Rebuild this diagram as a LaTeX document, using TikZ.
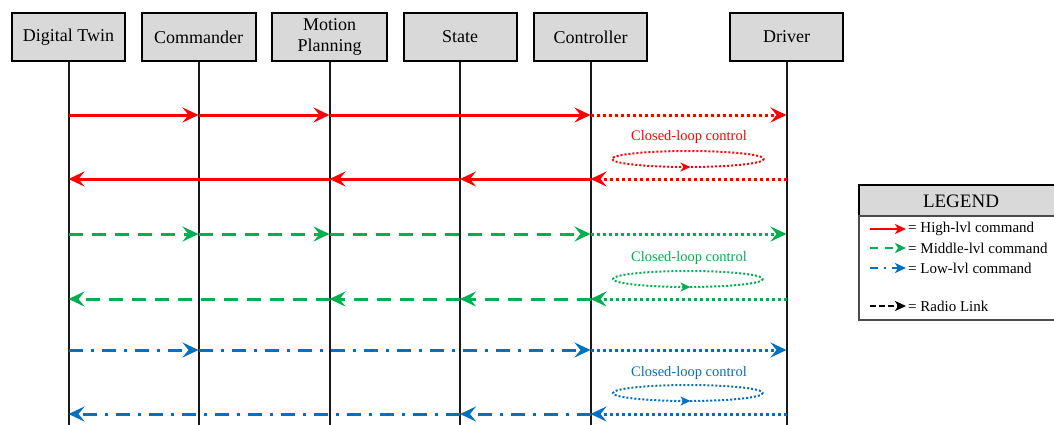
\documentclass[tikz,border=0pt]{standalone}
\usepackage{fontspec}
\setmainfont{Liberation Serif}
\usetikzlibrary{arrows.meta,decorations.markings}
\definecolor{cred}{HTML}{FF0000}
\definecolor{cgreen}{HTML}{00B050}
\definecolor{cblue}{HTML}{0070C0}
\definecolor{boxgray}{HTML}{D9D9D9}
\begin{document}
\begin{tikzpicture}[x=1pt,y=-1pt,
  actor/.style={draw=black,line width=2pt,fill=boxgray,minimum width=113pt,minimum height=48pt,inner sep=0pt,align=center,font=\fontsize{18}{22}\selectfont},
  life/.style={draw=black!90,line width=2pt},
  tip/.style={-{Stealth[length=16pt,width=15pt,inset=6pt]}},
  msg/.style={tip,line width=3pt},
  solidm/.style={msg},
  dashm/.style={msg,dash pattern=on 14pt off 9pt},
  dashdotm/.style={msg,dash pattern=on 14pt off 8pt on 3pt off 8pt},
  dotm/.style={msg,dash pattern=on 3pt off 3pt},
  looplabel/.style={font=\fontsize{14.5}{16}\selectfont},
  loopell/.style={line width=2pt,dash pattern=on 2pt off 2pt,
    postaction={decorate,decoration={markings,mark=at position 0.242 with {\arrowreversed{Stealth[length=10pt,width=9pt,inset=3pt]}}}}},
  legtext/.style={anchor=west,font=\fontsize{15}{17}\selectfont,inner sep=0pt}
]
\useasboundingbox (0,0) rectangle (1054,424);

% actors
\node[actor] (dt) at (68.5,37) {Digital Twin};
\node[actor,minimum width=114pt] (cm) at (198.5,37) {Commander};
\node[actor,minimum width=115pt] (mp) at (329.5,37) {Motion\\[-1pt]Planning};
\node[actor] (st) at (460,37) {State};
\node[actor] (ct) at (590.5,37) {Controller};
\node[actor] (dr) at (786.5,37) {Driver};

% lifeline ends
\foreach \a in {dt,cm,mp,st,ct,dr}{
  \coordinate (\a-end) at (\a.south |- 0,430);
  \draw[life] (\a.south) -- (\a-end);
}

% row levels
\coordinate (R1) at (0,115);
\coordinate (R2) at (0,179);
\coordinate (G1) at (0,234);
\coordinate (G2) at (0,299);
\coordinate (B1) at (0,350);
\coordinate (B2) at (0,414);

% red
\begin{scope}[cred]
\draw[solidm] (dt |- R1) -- (cm |- R1);
\draw[solidm] (cm |- R1) -- (mp |- R1);
\draw[solidm] (mp |- R1) -- (ct |- R1);
\draw[dotm] (ct |- R1) -- (dr |- R1);
\node[looplabel,text=cred] (rl) at (689,137) {Closed-loop control};
\draw[loopell] (688,159) ellipse (76 and 8);
\draw[dotm] (dr |- R2) -- (ct |- R2);
\draw[solidm] (ct |- R2) -- (st |- R2);
\draw[solidm] (st |- R2) -- (mp |- R2);
\draw[solidm] (mp |- R2) -- (dt |- R2);
\end{scope}

% green
\begin{scope}[cgreen]
\draw[dashm] (dt |- G1) -- (cm |- G1);
\draw[dashm] (cm |- G1) -- (mp |- G1);
\draw[dashm] (mp |- G1) -- (ct |- G1);
\draw[dotm] (ct |- G1) -- (dr |- G1);
\node[looplabel,text=cgreen] (gl) at (689,258) {Closed-loop control};
\draw[loopell] (688,279) ellipse (75 and 8);
\draw[dotm] (dr |- G2) -- (ct |- G2);
\draw[dashm] (ct |- G2) -- (st |- G2);
\draw[dashm] (st |- G2) -- (mp |- G2);
\draw[dashm] (mp |- G2) -- (dt |- G2);
\end{scope}

% blue
\begin{scope}[cblue]
\draw[dashdotm] (dt |- B1) -- (cm |- B1);
\draw[dashdotm] (cm |- B1) -- (ct |- B1);
\draw[dotm] (ct |- B1) -- (dr |- B1);
\node[looplabel,text=cblue] (bl) at (689,373) {Closed-loop control};
\draw[loopell] (688,393) ellipse (75 and 8);
\draw[dotm] (dr |- B2) -- (ct |- B2);
\draw[dashdotm] (ct |- B2) -- (st |- B2);
\draw[dashdotm] (st |- B2) -- (dt |- B2);
\end{scope}

% legend
\draw[line width=1.2pt,fill=boxgray] (859,185) rectangle (1062,216);
\node[font=\fontsize{19}{21}\selectfont] (lg) at (961,201) {LEGEND};
\draw[line width=1.2pt,draw=black!70] (859,216) rectangle (1062,320);
\coordinate (l1a) at (870,229); \coordinate (l1b) at (906,229);
\coordinate (l2a) at (870,248); \coordinate (l2b) at (906,248);
\coordinate (l3a) at (870,268); \coordinate (l3b) at (906,268);
\coordinate (l4a) at (870,306); \coordinate (l4b) at (906,306);
\draw[cred,line width=2pt,-{Stealth[length=11pt,width=10pt,inset=3pt]}] (l1a) -- (l1b);
\draw[cgreen,line width=2pt,dash pattern=on 8pt off 7pt,-{Stealth[length=11pt,width=10pt,inset=3pt]}] (l2a) -- (l2b);
\draw[cblue,line width=2pt,dash pattern=on 8pt off 6pt on 2pt off 6pt,-{Stealth[length=11pt,width=10pt,inset=3pt]}] (l3a) -- (l3b);
\draw[black,line width=2pt,dash pattern=on 6pt off 3pt,-{Stealth[length=11pt,width=10pt,inset=3pt]}] (l4a) -- (l4b);
\node[legtext] (t1) at (908,229) {= High-lvl command};
\node[legtext] (t2) at (908,248) {= Middle-lvl command};
\node[legtext] (t3) at (908,268) {= Low-lvl command};
\node[legtext] (t4) at (908,306) {= Radio Link};
\end{tikzpicture}
\end{document}
